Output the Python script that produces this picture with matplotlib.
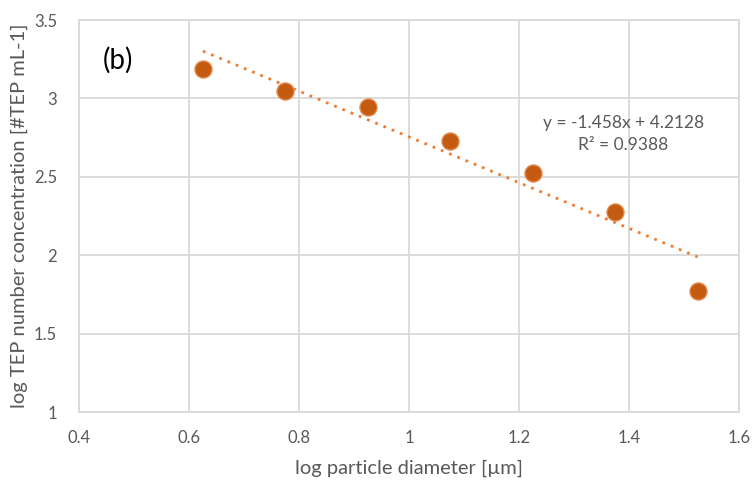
import numpy as np
import matplotlib
matplotlib.use("Agg")
import matplotlib.pyplot as plt

# data
log_diam = [0.625, 0.775, 0.925, 1.075, 1.225, 1.375, 1.525]
log_tep = [3.187, 3.047, 2.945, 2.728, 2.524, 2.276, 1.774]
slope, intercept = -1.458, 4.2128
x_ticks = [0.4, 0.6, 0.8, 1.0, 1.2, 1.4, 1.6]
x_tick_labels = ["0.4", "0.6", "0.8", "1", "1.2", "1.4", "1.6"]
y_ticks = [1.0, 1.5, 2.0, 2.5, 3.0, 3.5]
y_tick_labels = ["1", "1.5", "2", "2.5", "3", "3.5"]

plt.rcParams["font.family"] = ["Lato", "DejaVu Sans"]
txt = "#595959"
grid = "#D9D9D9"

fig = plt.figure(figsize=(7.54, 4.82), dpi=100)
ax = fig.add_axes([0.105, 0.145, 0.875, 0.8135])

xs = np.array([log_diam[0], log_diam[-1]])
ax.plot(xs, slope * xs + intercept, linestyle=(0, (1, 2.2)), lw=2,
        color="#ED7D31", zorder=2)
ax.scatter(log_diam, log_tep, s=150, color="#C55A11", edgecolor="#E08A4F",
           linewidth=1, zorder=3)

ax.set_xlim(0.4, 1.6)
ax.set_ylim(1, 3.5)
ax.set_xticks(x_ticks, x_tick_labels)
ax.set_yticks(y_ticks, y_tick_labels)
ax.grid(True, color=grid, lw=1.3)
ax.set_axisbelow(True)
for s in ax.spines.values():
    s.set_color(grid)
    s.set_linewidth(1.3)
ax.tick_params(length=0, labelsize=12, colors=txt)
ax.tick_params(axis="x", pad=13)
ax.tick_params(axis="y", pad=16)

ax.set_xlabel("log particle diameter [µm]", fontsize=14.5, color=txt, labelpad=10)
ax.set_ylabel("log TEP number concentration [#TEP mL-1]", fontsize=14.5,
              color=txt, labelpad=4)

ax.text(0.471, 3.245, "(b)", fontsize=20, color="black", ha="center", va="center")
ax.text(1.39, 2.775, "y = -1.458x + 4.2128\nR² = 0.9388", fontsize=12.5,
        color=txt, ha="center", va="center", linespacing=1.45)

fig.savefig("out.png", dpi=100)
